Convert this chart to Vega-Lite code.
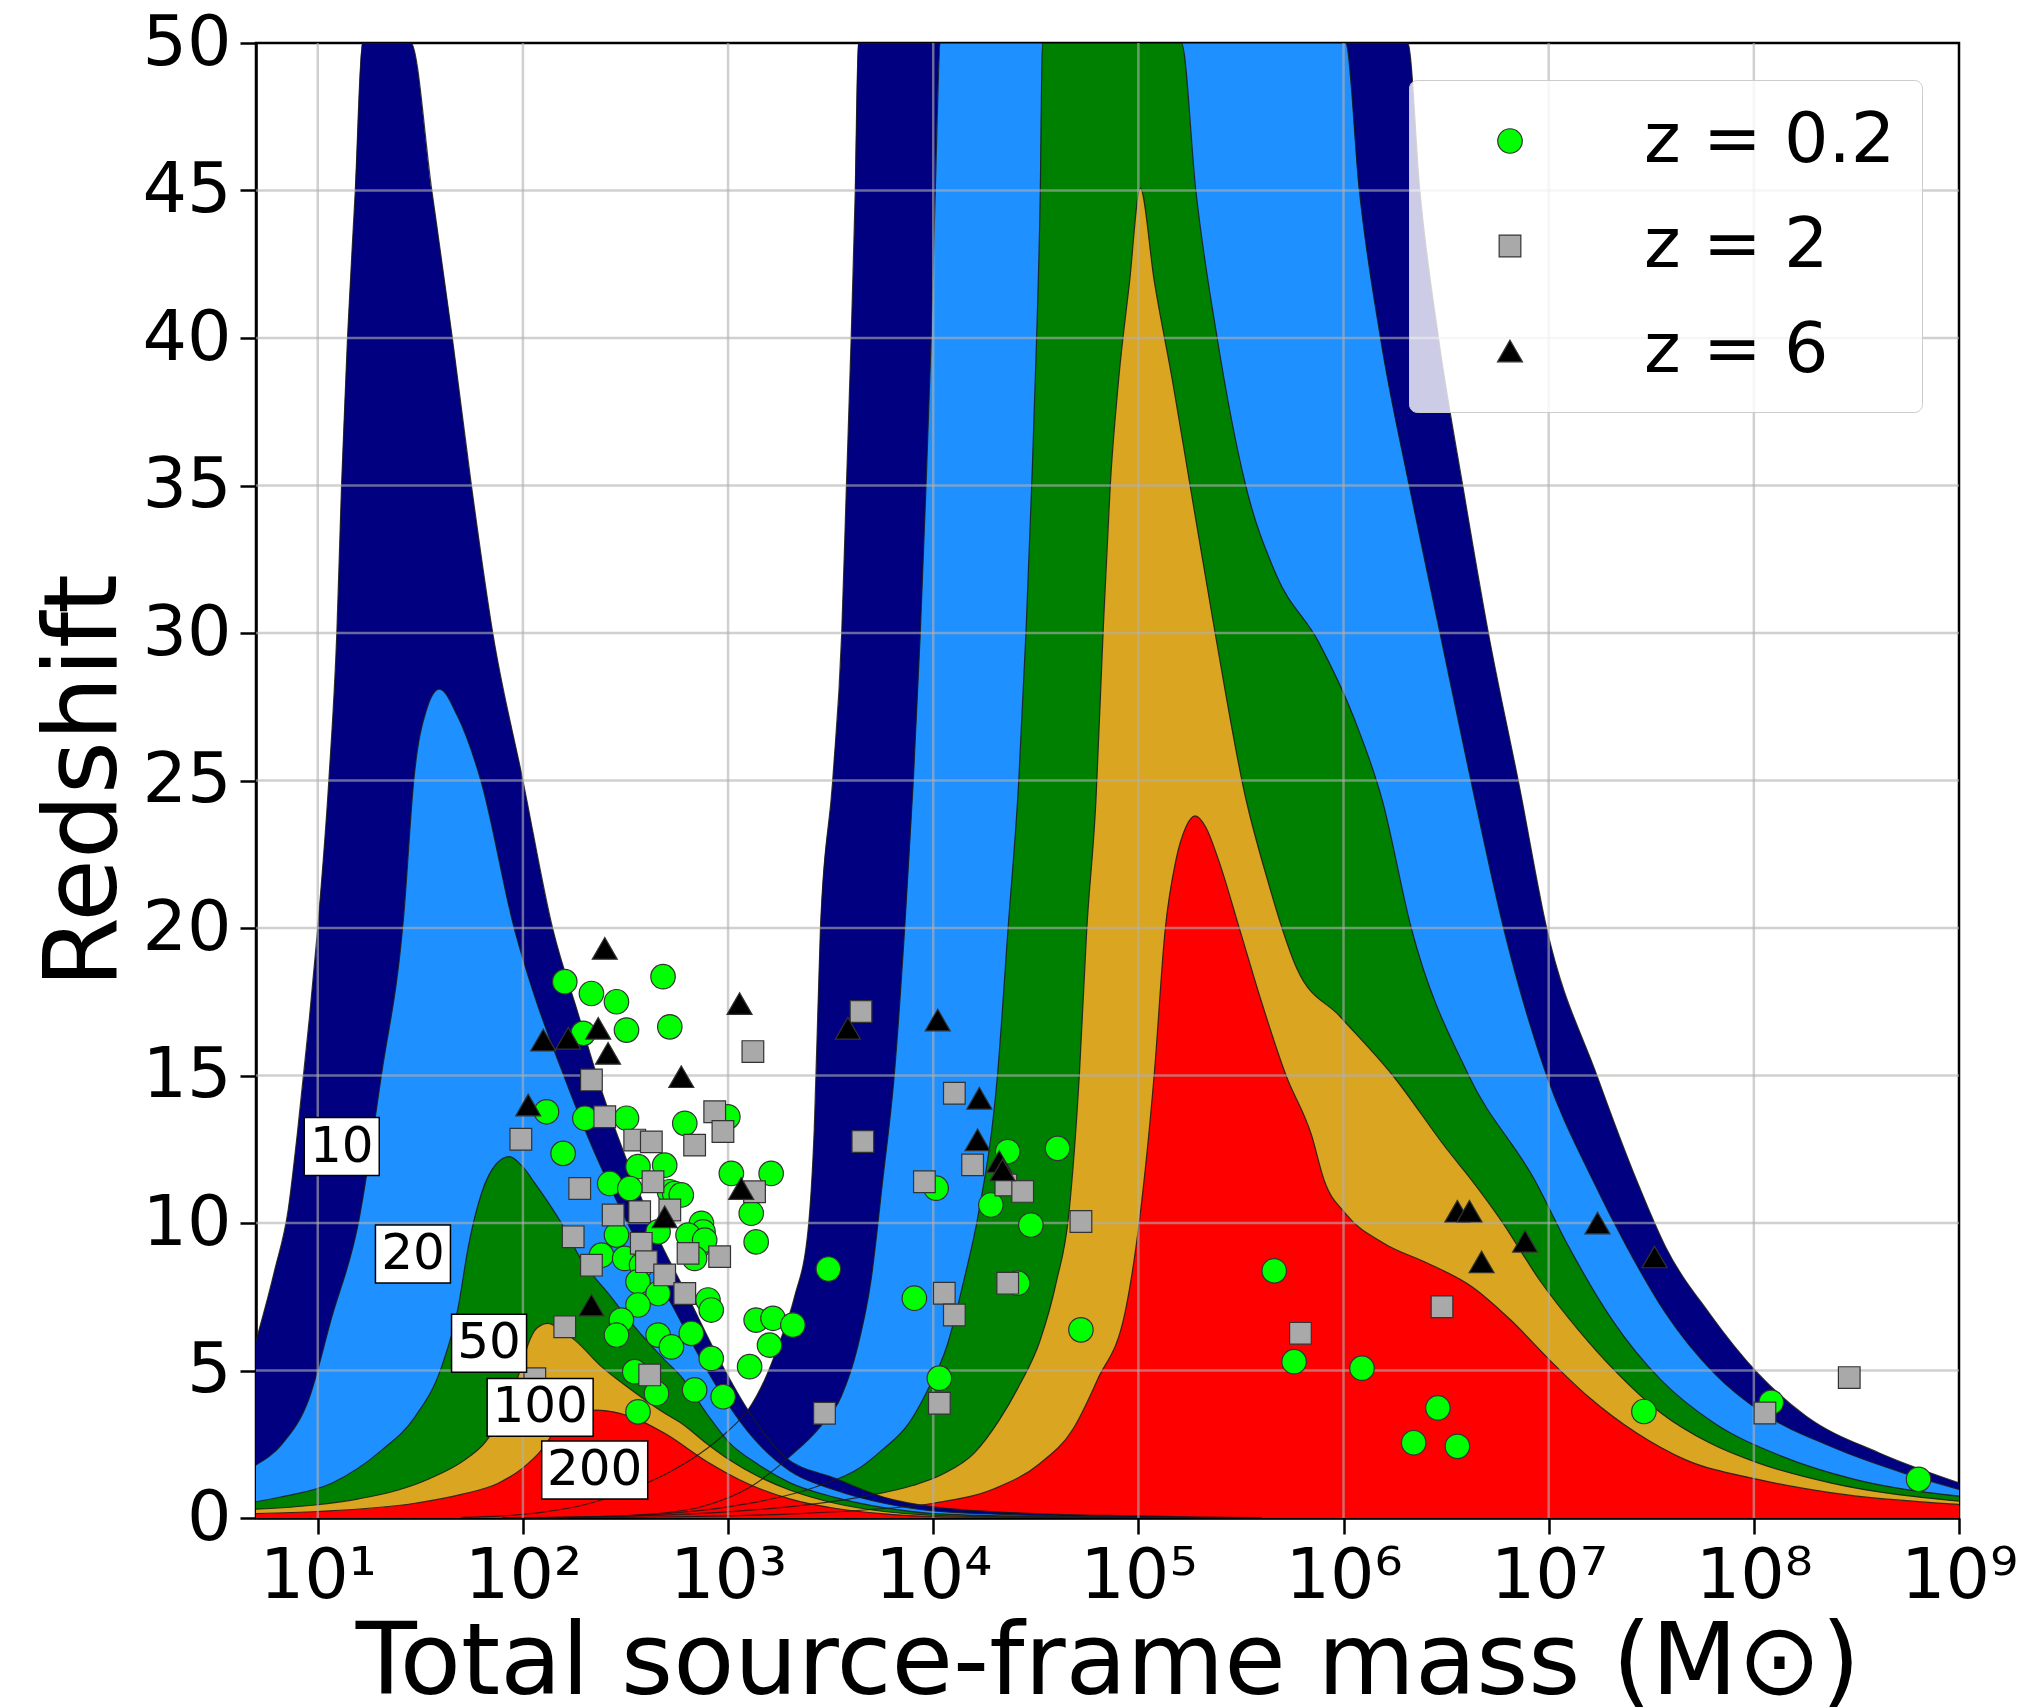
{
  "$schema": "https://vega.github.io/schema/vega-lite/v6.json",
  "width": 1703,
  "height": 1475,
  "autosize": {"type": "none"},
  "padding": {"left": 256, "top": 43, "right": 66, "bottom": 190},
  "background": "white",
  "config": {
    "font": "DejaVu Sans",
    "view": {"stroke": "black", "strokeWidth": 2.5},
    "axis": {"labelColor": "black", "titleColor": "black", "titleFontWeight": "normal", "domainColor": "black", "domainWidth": 2.5, "tickColor": "black", "tickWidth": 2.5, "tickSize": 16, "grid": false, "labelFont": "DejaVu Sans", "titleFont": "DejaVu Sans"},
    "legend": {"labelFont": "DejaVu Sans"}
  },
  "datasets": {
    "snr_curves": [
      {"curve":"LISA-10","log_mass":1.7,"z":0.02},{"curve":"LISA-10","log_mass":1.9,"z":0.07},{"curve":"LISA-10","log_mass":2.1,"z":0.2},{"curve":"LISA-10","log_mass":2.3,"z":0.45},{"curve":"LISA-10","log_mass":2.5,"z":0.9},{"curve":"LISA-10","log_mass":2.7,"z":1.5},{"curve":"LISA-10","log_mass":2.867,"z":2.2},{"curve":"LISA-10","log_mass":3.0,"z":2.95},{"curve":"LISA-10","log_mass":3.097,"z":3.66},{"curve":"LISA-10","log_mass":3.178,"z":4.68},{"curve":"LISA-10","log_mass":3.243,"z":5.81},{"curve":"LISA-10","log_mass":3.324,"z":7.5},{"curve":"LISA-10","log_mass":3.39,"z":9.76},{"curve":"LISA-10","log_mass":3.42,"z":13.15},{"curve":"LISA-10","log_mass":3.45,"z":19.93},{"curve":"LISA-10","log_mass":3.51,"z":25},{"curve":"LISA-10","log_mass":3.554,"z":30},{"curve":"LISA-10","log_mass":3.577,"z":35},{"curve":"LISA-10","log_mass":3.6,"z":40},{"curve":"LISA-10","log_mass":3.62,"z":45},{"curve":"LISA-10","log_mass":3.635,"z":50},{"curve":"LISA-10","log_mass":6.313,"z":50},{"curve":"LISA-10","log_mass":6.372,"z":45},{"curve":"LISA-10","log_mass":6.463,"z":40},{"curve":"LISA-10","log_mass":6.581,"z":35},{"curve":"LISA-10","log_mass":6.706,"z":30},{"curve":"LISA-10","log_mass":6.86,"z":24.7},{"curve":"LISA-10","log_mass":6.99,"z":20},{"curve":"LISA-10","log_mass":7.235,"z":15},{"curve":"LISA-10","log_mass":7.429,"z":11.44},{"curve":"LISA-10","log_mass":7.57,"z":9.19},{"curve":"LISA-10","log_mass":7.783,"z":6.94},{"curve":"LISA-10","log_mass":8.019,"z":4.91},{"curve":"LISA-10","log_mass":8.255,"z":3.45},{"curve":"LISA-10","log_mass":8.609,"z":2.21},{"curve":"LISA-10","log_mass":9.0,"z":1.19},

      {"curve":"LISA-20","log_mass":2.0,"z":0.01},{"curve":"LISA-20","log_mass":2.3,"z":0.04},{"curve":"LISA-20","log_mass":2.6,"z":0.12},{"curve":"LISA-20","log_mass":2.87,"z":0.38},{"curve":"LISA-20","log_mass":3.11,"z":1.06},{"curve":"LISA-20","log_mass":3.3,"z":2.08},{"curve":"LISA-20","log_mass":3.45,"z":3.1},{"curve":"LISA-20","log_mass":3.551,"z":4.11},{"curve":"LISA-20","log_mass":3.632,"z":5.81},{"curve":"LISA-20","log_mass":3.697,"z":8.07},{"curve":"LISA-20","log_mass":3.754,"z":11.46},{"curve":"LISA-20","log_mass":3.81,"z":15},{"curve":"LISA-20","log_mass":3.861,"z":20},{"curve":"LISA-20","log_mass":3.903,"z":25},{"curve":"LISA-20","log_mass":3.937,"z":30},{"curve":"LISA-20","log_mass":3.965,"z":35},{"curve":"LISA-20","log_mass":3.99,"z":40},{"curve":"LISA-20","log_mass":4.01,"z":45},{"curve":"LISA-20","log_mass":4.035,"z":50},{"curve":"LISA-20","log_mass":6.01,"z":50},{"curve":"LISA-20","log_mass":6.077,"z":45},{"curve":"LISA-20","log_mass":6.18,"z":40},{"curve":"LISA-20","log_mass":6.32,"z":35},{"curve":"LISA-20","log_mass":6.47,"z":30},{"curve":"LISA-20","log_mass":6.636,"z":24.5},{"curve":"LISA-20","log_mass":6.78,"z":20},{"curve":"LISA-20","log_mass":6.99,"z":15},{"curve":"LISA-20","log_mass":7.216,"z":11.44},{"curve":"LISA-20","log_mass":7.381,"z":9.19},{"curve":"LISA-20","log_mass":7.57,"z":6.94},{"curve":"LISA-20","log_mass":7.806,"z":4.91},{"curve":"LISA-20","log_mass":8.043,"z":3.56},{"curve":"LISA-20","log_mass":8.373,"z":2.43},{"curve":"LISA-20","log_mass":8.727,"z":1.53},{"curve":"LISA-20","log_mass":9.0,"z":0.97},

      {"curve":"LISA-50","log_mass":2.0,"z":0.012},{"curve":"LISA-50","log_mass":2.4,"z":0.05},{"curve":"LISA-50","log_mass":2.7,"z":0.15},{"curve":"LISA-50","log_mass":3.0,"z":0.38},{"curve":"LISA-50","log_mass":3.19,"z":0.61},{"curve":"LISA-50","log_mass":3.43,"z":1.06},{"curve":"LISA-50","log_mass":3.65,"z":1.74},{"curve":"LISA-50","log_mass":3.75,"z":2.3},{"curve":"LISA-50","log_mass":3.88,"z":3.2},{"curve":"LISA-50","log_mass":3.97,"z":4.3},{"curve":"LISA-50","log_mass":4.07,"z":5.9},{"curve":"LISA-50","log_mass":4.15,"z":8.07},{"curve":"LISA-50","log_mass":4.22,"z":10.3},{"curve":"LISA-50","log_mass":4.313,"z":15},{"curve":"LISA-50","log_mass":4.365,"z":20},{"curve":"LISA-50","log_mass":4.417,"z":25},{"curve":"LISA-50","log_mass":4.452,"z":30},{"curve":"LISA-50","log_mass":4.48,"z":35},{"curve":"LISA-50","log_mass":4.504,"z":40},{"curve":"LISA-50","log_mass":4.522,"z":45},{"curve":"LISA-50","log_mass":4.532,"z":50},{"curve":"LISA-50","log_mass":5.21,"z":50},{"curve":"LISA-50","log_mass":5.28,"z":45},{"curve":"LISA-50","log_mass":5.384,"z":40},{"curve":"LISA-50","log_mass":5.523,"z":35},{"curve":"LISA-50","log_mass":5.67,"z":32},{"curve":"LISA-50","log_mass":5.878,"z":29.7},{"curve":"LISA-50","log_mass":6.052,"z":27.1},{"curve":"LISA-50","log_mass":6.19,"z":24.3},{"curve":"LISA-50","log_mass":6.33,"z":20},{"curve":"LISA-50","log_mass":6.61,"z":15},{"curve":"LISA-50","log_mass":6.933,"z":11.44},{"curve":"LISA-50","log_mass":7.098,"z":9.19},{"curve":"LISA-50","log_mass":7.31,"z":6.71},{"curve":"LISA-50","log_mass":7.547,"z":4.68},{"curve":"LISA-50","log_mass":7.806,"z":3.22},{"curve":"LISA-50","log_mass":8.137,"z":2.09},{"curve":"LISA-50","log_mass":8.491,"z":1.31},{"curve":"LISA-50","log_mass":9.0,"z":0.74},

      {"curve":"LISA-100","log_mass":1.9,"z":0.01},{"curve":"LISA-100","log_mass":2.2,"z":0.025},{"curve":"LISA-100","log_mass":2.6,"z":0.08},{"curve":"LISA-100","log_mass":3.0,"z":0.21},{"curve":"LISA-100","log_mass":3.35,"z":0.42},{"curve":"LISA-100","log_mass":3.68,"z":0.75},{"curve":"LISA-100","log_mass":3.9,"z":1.1},{"curve":"LISA-100","log_mass":4.05,"z":1.5},{"curve":"LISA-100","log_mass":4.2,"z":2.2},{"curve":"LISA-100","log_mass":4.32,"z":3.3},{"curve":"LISA-100","log_mass":4.42,"z":4.5},{"curve":"LISA-100","log_mass":4.52,"z":6.0},{"curve":"LISA-100","log_mass":4.6,"z":8.0},{"curve":"LISA-100","log_mass":4.661,"z":10.3},{"curve":"LISA-100","log_mass":4.713,"z":15.1},{"curve":"LISA-100","log_mass":4.748,"z":19.9},{"curve":"LISA-100","log_mass":4.793,"z":24.3},{"curve":"LISA-100","log_mass":4.828,"z":30},{"curve":"LISA-100","log_mass":4.863,"z":35},{"curve":"LISA-100","log_mass":4.904,"z":38.6},{"curve":"LISA-100","log_mass":4.957,"z":41.9},{"curve":"LISA-100","log_mass":5.009,"z":45.08},{"curve":"LISA-100","log_mass":5.078,"z":41.9},{"curve":"LISA-100","log_mass":5.165,"z":38.6},{"curve":"LISA-100","log_mass":5.252,"z":35},{"curve":"LISA-100","log_mass":5.374,"z":30},{"curve":"LISA-100","log_mass":5.52,"z":24.5},{"curve":"LISA-100","log_mass":5.635,"z":21.5},{"curve":"LISA-100","log_mass":5.7,"z":20},{"curve":"LISA-100","log_mass":5.774,"z":18.6},{"curve":"LISA-100","log_mass":5.983,"z":17.0},{"curve":"LISA-100","log_mass":6.24,"z":15},{"curve":"LISA-100","log_mass":6.504,"z":12.5},{"curve":"LISA-100","log_mass":6.626,"z":11.44},{"curve":"LISA-100","log_mass":6.767,"z":10.1},{"curve":"LISA-100","log_mass":6.956,"z":8.06},{"curve":"LISA-100","log_mass":7.145,"z":6.37},{"curve":"LISA-100","log_mass":7.334,"z":4.91},{"curve":"LISA-100","log_mass":7.547,"z":3.56},{"curve":"LISA-100","log_mass":7.783,"z":2.55},{"curve":"LISA-100","log_mass":8.019,"z":1.87},{"curve":"LISA-100","log_mass":8.373,"z":1.19},{"curve":"LISA-100","log_mass":9.0,"z":0.57},

      {"curve":"LISA-200","log_mass":2.2,"z":0.008},{"curve":"LISA-200","log_mass":2.6,"z":0.025},{"curve":"LISA-200","log_mass":3.0,"z":0.07},{"curve":"LISA-200","log_mass":3.35,"z":0.15},{"curve":"LISA-200","log_mass":3.68,"z":0.28},{"curve":"LISA-200","log_mass":4.0,"z":0.5},{"curve":"LISA-200","log_mass":4.3,"z":1.0},{"curve":"LISA-200","log_mass":4.52,"z":1.85},{"curve":"LISA-200","log_mass":4.68,"z":3.0},{"curve":"LISA-200","log_mass":4.8,"z":4.68},{"curve":"LISA-200","log_mass":4.939,"z":7.1},{"curve":"LISA-200","log_mass":5.009,"z":10.3},{"curve":"LISA-200","log_mass":5.078,"z":15.1},{"curve":"LISA-200","log_mass":5.13,"z":19.9},{"curve":"LISA-200","log_mass":5.183,"z":22.3},{"curve":"LISA-200","log_mass":5.23,"z":23.4},{"curve":"LISA-200","log_mass":5.277,"z":23.8},{"curve":"LISA-200","log_mass":5.33,"z":23.4},{"curve":"LISA-200","log_mass":5.391,"z":22.3},{"curve":"LISA-200","log_mass":5.496,"z":19.9},{"curve":"LISA-200","log_mass":5.6,"z":17.5},{"curve":"LISA-200","log_mass":5.72,"z":15},{"curve":"LISA-200","log_mass":5.843,"z":13.0},{"curve":"LISA-200","log_mass":5.906,"z":11.44},{"curve":"LISA-200","log_mass":6.012,"z":10.3},{"curve":"LISA-200","log_mass":6.2,"z":9.3},{"curve":"LISA-200","log_mass":6.413,"z":8.63},{"curve":"LISA-200","log_mass":6.626,"z":7.84},{"curve":"LISA-200","log_mass":6.815,"z":6.71},{"curve":"LISA-200","log_mass":7.004,"z":5.36},{"curve":"LISA-200","log_mass":7.192,"z":4.12},{"curve":"LISA-200","log_mass":7.429,"z":2.88},{"curve":"LISA-200","log_mass":7.665,"z":1.98},{"curve":"LISA-200","log_mass":8.019,"z":1.31},{"curve":"LISA-200","log_mass":8.373,"z":0.86},{"curve":"LISA-200","log_mass":9.0,"z":0.46},

      {"curve":"LIGO-10","log_mass":0.699,"z":6.0},{"curve":"LIGO-10","log_mass":0.79,"z":8.4},{"curve":"LIGO-10","log_mass":0.857,"z":10.5},{"curve":"LIGO-10","log_mass":0.9,"z":13.0},{"curve":"LIGO-10","log_mass":0.96,"z":17.0},{"curve":"LIGO-10","log_mass":1.0,"z":20},{"curve":"LIGO-10","log_mass":1.054,"z":25},{"curve":"LIGO-10","log_mass":1.093,"z":30},{"curve":"LIGO-10","log_mass":1.116,"z":35},{"curve":"LIGO-10","log_mass":1.145,"z":40},{"curve":"LIGO-10","log_mass":1.183,"z":45},{"curve":"LIGO-10","log_mass":1.218,"z":50},{"curve":"LIGO-10","log_mass":1.454,"z":50},{"curve":"LIGO-10","log_mass":1.556,"z":45},{"curve":"LIGO-10","log_mass":1.656,"z":40},{"curve":"LIGO-10","log_mass":1.749,"z":35},{"curve":"LIGO-10","log_mass":1.853,"z":30},{"curve":"LIGO-10","log_mass":2.0,"z":25},{"curve":"LIGO-10","log_mass":2.147,"z":19.93},{"curve":"LIGO-10","log_mass":2.269,"z":17.1},{"curve":"LIGO-10","log_mass":2.383,"z":14.5},{"curve":"LIGO-10","log_mass":2.513,"z":12.0},{"curve":"LIGO-10","log_mass":2.642,"z":9.76},{"curve":"LIGO-10","log_mass":2.805,"z":7.5},{"curve":"LIGO-10","log_mass":2.967,"z":5.24},{"curve":"LIGO-10","log_mass":3.097,"z":3.66},{"curve":"LIGO-10","log_mass":3.275,"z":2.08},{"curve":"LIGO-10","log_mass":3.52,"z":1.35},{"curve":"LIGO-10","log_mass":3.76,"z":0.7},{"curve":"LIGO-10","log_mass":4.0,"z":0.38},{"curve":"LIGO-10","log_mass":4.5,"z":0.15},{"curve":"LIGO-10","log_mass":5.0,"z":0.07},{"curve":"LIGO-10","log_mass":5.3,"z":0.03},{"curve":"LIGO-10","log_mass":5.6,"z":0.01},

      {"curve":"LIGO-20","log_mass":0.699,"z":1.8},{"curve":"LIGO-20","log_mass":0.825,"z":2.5},{"curve":"LIGO-20","log_mass":0.955,"z":4.0},{"curve":"LIGO-20","log_mass":1.068,"z":6.8},{"curve":"LIGO-20","log_mass":1.198,"z":10},{"curve":"LIGO-20","log_mass":1.31,"z":15},{"curve":"LIGO-20","log_mass":1.42,"z":20.5},{"curve":"LIGO-20","log_mass":1.468,"z":25},{"curve":"LIGO-20","log_mass":1.53,"z":27.4},{"curve":"LIGO-20","log_mass":1.593,"z":28.1},{"curve":"LIGO-20","log_mass":1.68,"z":27.2},{"curve":"LIGO-20","log_mass":1.795,"z":25},{"curve":"LIGO-20","log_mass":1.96,"z":19.93},{"curve":"LIGO-20","log_mass":2.058,"z":17.67},{"curve":"LIGO-20","log_mass":2.188,"z":15.2},{"curve":"LIGO-20","log_mass":2.318,"z":12.9},{"curve":"LIGO-20","log_mass":2.447,"z":10.9},{"curve":"LIGO-20","log_mass":2.577,"z":9.08},{"curve":"LIGO-20","log_mass":2.74,"z":7.05},{"curve":"LIGO-20","log_mass":2.85,"z":5.6},{"curve":"LIGO-20","log_mass":2.95,"z":4.4},{"curve":"LIGO-20","log_mass":3.1,"z":2.9},{"curve":"LIGO-20","log_mass":3.3,"z":1.6},{"curve":"LIGO-20","log_mass":3.52,"z":0.95},{"curve":"LIGO-20","log_mass":3.76,"z":0.5},{"curve":"LIGO-20","log_mass":4.0,"z":0.24},{"curve":"LIGO-20","log_mass":4.5,"z":0.09},{"curve":"LIGO-20","log_mass":5.0,"z":0.03},{"curve":"LIGO-20","log_mass":5.4,"z":0.01},

      {"curve":"LIGO-50","log_mass":0.699,"z":0.55},{"curve":"LIGO-50","log_mass":0.825,"z":0.72},{"curve":"LIGO-50","log_mass":1.068,"z":1.18},{"curve":"LIGO-50","log_mass":1.312,"z":2.3},{"curve":"LIGO-50","log_mass":1.474,"z":3.43},{"curve":"LIGO-50","log_mass":1.604,"z":5.13},{"curve":"LIGO-50","log_mass":1.685,"z":7.16},{"curve":"LIGO-50","log_mass":1.734,"z":9.2},{"curve":"LIGO-50","log_mass":1.798,"z":11.0},{"curve":"LIGO-50","log_mass":1.87,"z":12.0},{"curve":"LIGO-50","log_mass":1.933,"z":12.25},{"curve":"LIGO-50","log_mass":2.0,"z":11.9},{"curve":"LIGO-50","log_mass":2.058,"z":11.35},{"curve":"LIGO-50","log_mass":2.188,"z":9.99},{"curve":"LIGO-50","log_mass":2.285,"z":8.75},{"curve":"LIGO-50","log_mass":2.415,"z":7.62},{"curve":"LIGO-50","log_mass":2.545,"z":6.48},{"curve":"LIGO-50","log_mass":2.691,"z":5.36},{"curve":"LIGO-50","log_mass":2.772,"z":4.79},{"curve":"LIGO-50","log_mass":2.9,"z":3.5},{"curve":"LIGO-50","log_mass":3.0,"z":2.6},{"curve":"LIGO-50","log_mass":3.15,"z":1.8},{"curve":"LIGO-50","log_mass":3.3,"z":1.2},{"curve":"LIGO-50","log_mass":3.52,"z":0.7},{"curve":"LIGO-50","log_mass":3.76,"z":0.35},{"curve":"LIGO-50","log_mass":4.0,"z":0.15},{"curve":"LIGO-50","log_mass":4.5,"z":0.055},{"curve":"LIGO-50","log_mass":5.0,"z":0.018},{"curve":"LIGO-50","log_mass":5.3,"z":0.006},

      {"curve":"LIGO-100","log_mass":0.699,"z":0.3},{"curve":"LIGO-100","log_mass":0.987,"z":0.44},{"curve":"LIGO-100","log_mass":1.2,"z":0.65},{"curve":"LIGO-100","log_mass":1.393,"z":0.95},{"curve":"LIGO-100","log_mass":1.55,"z":1.35},{"curve":"LIGO-100","log_mass":1.717,"z":1.97},{"curve":"LIGO-100","log_mass":1.82,"z":2.6},{"curve":"LIGO-100","log_mass":1.896,"z":3.43},{"curve":"LIGO-100","log_mass":1.95,"z":4.3},{"curve":"LIGO-100","log_mass":1.993,"z":5.13},{"curve":"LIGO-100","log_mass":2.026,"z":5.9},{"curve":"LIGO-100","log_mass":2.07,"z":6.45},{"curve":"LIGO-100","log_mass":2.123,"z":6.6},{"curve":"LIGO-100","log_mass":2.18,"z":6.4},{"curve":"LIGO-100","log_mass":2.253,"z":6.03},{"curve":"LIGO-100","log_mass":2.383,"z":5.13},{"curve":"LIGO-100","log_mass":2.529,"z":4.34},{"curve":"LIGO-100","log_mass":2.691,"z":3.55},{"curve":"LIGO-100","log_mass":2.772,"z":3.21},{"curve":"LIGO-100","log_mass":2.9,"z":2.5},{"curve":"LIGO-100","log_mass":3.0,"z":2.0},{"curve":"LIGO-100","log_mass":3.15,"z":1.4},{"curve":"LIGO-100","log_mass":3.3,"z":0.95},{"curve":"LIGO-100","log_mass":3.52,"z":0.5},{"curve":"LIGO-100","log_mass":3.76,"z":0.22},{"curve":"LIGO-100","log_mass":4.0,"z":0.09},{"curve":"LIGO-100","log_mass":4.5,"z":0.03},{"curve":"LIGO-100","log_mass":5.0,"z":0.01},

      {"curve":"LIGO-200","log_mass":0.699,"z":0.15},{"curve":"LIGO-200","log_mass":1.0,"z":0.22},{"curve":"LIGO-200","log_mass":1.474,"z":0.5},{"curve":"LIGO-200","log_mass":1.7,"z":0.8},{"curve":"LIGO-200","log_mass":1.88,"z":1.18},{"curve":"LIGO-200","log_mass":2.0,"z":1.7},{"curve":"LIGO-200","log_mass":2.09,"z":2.3},{"curve":"LIGO-200","log_mass":2.15,"z":2.9},{"curve":"LIGO-200","log_mass":2.204,"z":3.4},{"curve":"LIGO-200","log_mass":2.28,"z":3.6},{"curve":"LIGO-200","log_mass":2.36,"z":3.66},{"curve":"LIGO-200","log_mass":2.44,"z":3.6},{"curve":"LIGO-200","log_mass":2.529,"z":3.43},{"curve":"LIGO-200","log_mass":2.691,"z":2.87},{"curve":"LIGO-200","log_mass":2.9,"z":1.9},{"curve":"LIGO-200","log_mass":3.1,"z":1.15},{"curve":"LIGO-200","log_mass":3.3,"z":0.65},{"curve":"LIGO-200","log_mass":3.52,"z":0.33},{"curve":"LIGO-200","log_mass":3.76,"z":0.14},{"curve":"LIGO-200","log_mass":4.0,"z":0.05},{"curve":"LIGO-200","log_mass":4.5,"z":0.015},{"curve":"LIGO-200","log_mass":5.0,"z":0.005}
    ],
    "sources": [
      {"population":"z = 0.2","log_mass":2.204,"z":18.18},{"population":"z = 0.2","log_mass":2.683,"z":18.35},{"population":"z = 0.2","log_mass":2.334,"z":17.78},{"population":"z = 0.2","log_mass":2.456,"z":17.5},{"population":"z = 0.2","log_mass":2.716,"z":16.65},{"population":"z = 0.2","log_mass":2.505,"z":16.54},{"population":"z = 0.2","log_mass":2.294,"z":16.43},{"population":"z = 0.2","log_mass":2.115,"z":13.77},{"population":"z = 0.2","log_mass":2.302,"z":13.55},{"population":"z = 0.2","log_mass":2.505,"z":13.55},{"population":"z = 0.2","log_mass":2.789,"z":13.38},{"population":"z = 0.2","log_mass":2.999,"z":13.6},{"population":"z = 0.2","log_mass":2.196,"z":12.36},{"population":"z = 0.2","log_mass":2.561,"z":11.91},{"population":"z = 0.2","log_mass":2.691,"z":11.96},{"population":"z = 0.2","log_mass":3.016,"z":11.68},{"population":"z = 0.2","log_mass":3.21,"z":11.68},{"population":"z = 0.2","log_mass":2.423,"z":11.34},{"population":"z = 0.2","log_mass":2.521,"z":11.17},{"population":"z = 0.2","log_mass":2.715,"z":11.06},{"population":"z = 0.2","log_mass":2.74,"z":11.0},{"population":"z = 0.2","log_mass":2.772,"z":10.95},{"population":"z = 0.2","log_mass":3.113,"z":10.33},{"population":"z = 0.2","log_mass":2.87,"z":9.99},{"population":"z = 0.2","log_mass":2.878,"z":9.7},{"population":"z = 0.2","log_mass":2.853,"z":9.2},{"population":"z = 0.2","log_mass":2.456,"z":9.59},{"population":"z = 0.2","log_mass":2.659,"z":9.7},{"population":"z = 0.2","log_mass":2.805,"z":9.59},{"population":"z = 0.2","log_mass":2.886,"z":9.42},{"population":"z = 0.2","log_mass":3.137,"z":9.36},{"population":"z = 0.2","log_mass":2.383,"z":8.91},{"population":"z = 0.2","log_mass":2.496,"z":8.8},{"population":"z = 0.2","log_mass":2.578,"z":8.57},{"population":"z = 0.2","log_mass":2.561,"z":8.01},{"population":"z = 0.2","log_mass":2.659,"z":7.61},{"population":"z = 0.2","log_mass":2.837,"z":8.8},{"population":"z = 0.2","log_mass":2.561,"z":7.22},{"population":"z = 0.2","log_mass":2.902,"z":7.39},{"population":"z = 0.2","log_mass":2.918,"z":7.05},{"population":"z = 0.2","log_mass":2.48,"z":6.71},{"population":"z = 0.2","log_mass":2.456,"z":6.2},{"population":"z = 0.2","log_mass":2.659,"z":6.2},{"population":"z = 0.2","log_mass":2.724,"z":5.8},{"population":"z = 0.2","log_mass":2.821,"z":6.26},{"population":"z = 0.2","log_mass":3.137,"z":6.71},{"population":"z = 0.2","log_mass":3.219,"z":6.77},{"population":"z = 0.2","log_mass":3.316,"z":6.54},{"population":"z = 0.2","log_mass":3.202,"z":5.86},{"population":"z = 0.2","log_mass":2.918,"z":5.41},{"population":"z = 0.2","log_mass":3.105,"z":5.13},{"population":"z = 0.2","log_mass":2.545,"z":4.96},{"population":"z = 0.2","log_mass":2.651,"z":4.22},{"population":"z = 0.2","log_mass":2.837,"z":4.34},{"population":"z = 0.2","log_mass":2.976,"z":4.11},{"population":"z = 0.2","log_mass":2.561,"z":3.6},{"population":"z = 0.2","log_mass":3.489,"z":8.44},
      {"population":"z = 0.2","log_mass":4.363,"z":12.42},{"population":"z = 0.2","log_mass":4.606,"z":12.53},{"population":"z = 0.2","log_mass":4.014,"z":11.18},{"population":"z = 0.2","log_mass":4.281,"z":10.61},{"population":"z = 0.2","log_mass":4.476,"z":9.93},{"population":"z = 0.2","log_mass":3.908,"z":7.45},{"population":"z = 0.2","log_mass":4.411,"z":7.96},{"population":"z = 0.2","log_mass":4.72,"z":6.38},{"population":"z = 0.2","log_mass":4.03,"z":4.74},
      {"population":"z = 0.2","log_mass":5.662,"z":8.38},{"population":"z = 0.2","log_mass":5.759,"z":5.3},{"population":"z = 0.2","log_mass":6.09,"z":5.08},{"population":"z = 0.2","log_mass":6.46,"z":3.73},{"population":"z = 0.2","log_mass":6.342,"z":2.55},{"population":"z = 0.2","log_mass":6.555,"z":2.43},{"population":"z = 0.2","log_mass":7.464,"z":3.61},{"population":"z = 0.2","log_mass":8.085,"z":3.92},{"population":"z = 0.2","log_mass":8.803,"z":1.31},

      {"population":"z = 2","log_mass":2.334,"z":14.85},{"population":"z = 2","log_mass":3.121,"z":15.81},{"population":"z = 2","log_mass":2.399,"z":13.6},{"population":"z = 2","log_mass":2.935,"z":13.77},{"population":"z = 2","log_mass":1.99,"z":12.84},{"population":"z = 2","log_mass":2.545,"z":12.81},{"population":"z = 2","log_mass":2.626,"z":12.75},{"population":"z = 2","log_mass":2.837,"z":12.64},{"population":"z = 2","log_mass":2.975,"z":13.1},{"population":"z = 2","log_mass":2.277,"z":11.17},{"population":"z = 2","log_mass":2.634,"z":11.4},{"population":"z = 2","log_mass":2.44,"z":10.27},{"population":"z = 2","log_mass":2.569,"z":10.38},{"population":"z = 2","log_mass":2.716,"z":10.44},{"population":"z = 2","log_mass":3.129,"z":11.06},{"population":"z = 2","log_mass":2.245,"z":9.53},{"population":"z = 2","log_mass":2.577,"z":9.31},{"population":"z = 2","log_mass":2.805,"z":8.97},{"population":"z = 2","log_mass":2.959,"z":8.86},{"population":"z = 2","log_mass":2.334,"z":8.57},{"population":"z = 2","log_mass":2.602,"z":8.69},{"population":"z = 2","log_mass":2.691,"z":8.24},{"population":"z = 2","log_mass":2.789,"z":7.61},{"population":"z = 2","log_mass":2.204,"z":6.48},{"population":"z = 2","log_mass":2.618,"z":4.85},{"population":"z = 2","log_mass":2.058,"z":4.72},
      {"population":"z = 2","log_mass":3.648,"z":17.17},{"population":"z = 2","log_mass":4.103,"z":14.4},{"population":"z = 2","log_mass":3.657,"z":12.76},{"population":"z = 2","log_mass":4.192,"z":11.97},{"population":"z = 2","log_mass":3.957,"z":11.4},{"population":"z = 2","log_mass":4.354,"z":11.29},{"population":"z = 2","log_mass":4.436,"z":11.07},{"population":"z = 2","log_mass":4.72,"z":10.05},{"population":"z = 2","log_mass":4.363,"z":7.96},{"population":"z = 2","log_mass":4.054,"z":7.62},{"population":"z = 2","log_mass":4.103,"z":6.88},{"population":"z = 2","log_mass":4.03,"z":3.89},{"population":"z = 2","log_mass":3.47,"z":3.55},
      {"population":"z = 2","log_mass":5.79,"z":6.26},{"population":"z = 2","log_mass":6.48,"z":7.16},{"population":"z = 2","log_mass":8.054,"z":3.56},{"population":"z = 2","log_mass":8.465,"z":4.76},

      {"population":"z = 6","log_mass":2.399,"z":19.31},{"population":"z = 6","log_mass":3.056,"z":17.44},{"population":"z = 6","log_mass":2.099,"z":16.2},{"population":"z = 6","log_mass":2.221,"z":16.26},{"population":"z = 6","log_mass":2.367,"z":16.6},{"population":"z = 6","log_mass":2.415,"z":15.75},{"population":"z = 6","log_mass":2.772,"z":14.96},{"population":"z = 6","log_mass":2.026,"z":14.0},{"population":"z = 6","log_mass":3.064,"z":11.17},{"population":"z = 6","log_mass":2.691,"z":10.21},{"population":"z = 6","log_mass":2.334,"z":7.22},
      {"population":"z = 6","log_mass":3.584,"z":16.6},{"population":"z = 6","log_mass":4.022,"z":16.88},{"population":"z = 6","log_mass":4.225,"z":14.23},{"population":"z = 6","log_mass":4.216,"z":12.82},{"population":"z = 6","log_mass":4.322,"z":12.08},{"population":"z = 6","log_mass":4.338,"z":11.8},
      {"population":"z = 6","log_mass":6.555,"z":10.4},{"population":"z = 6","log_mass":6.614,"z":10.4},{"population":"z = 6","log_mass":6.673,"z":8.68},{"population":"z = 6","log_mass":6.885,"z":9.38},{"population":"z = 6","log_mass":7.238,"z":10.0},{"population":"z = 6","log_mass":7.516,"z":8.85}
    ],
    "snr_labels": [
      {"label":"10","log_mass":1.117,"z":12.59},
      {"label":"20","log_mass":1.464,"z":8.95},
      {"label":"50","log_mass":1.835,"z":5.92},
      {"label":"100","log_mass":2.084,"z":3.75},
      {"label":"200","log_mass":2.35,"z":1.63}
    ]
  },
  "layer": [
    {
      "data": {"name": "snr_curves"},
      "transform": [{"filter": "datum.curve == 'LISA-10'"}],
      "mark": {"type": "area", "color": "#000080", "interpolate": "monotone", "clip": true},
      "encoding": {
        "x": {"field": "log_mass", "type": "quantitative", "scale": {"domain": [0.699, 9], "nice": false, "zero": false},
          "axis": {"title": "Total source-frame mass (M⊙)", "values": [1,2,3,4,5,6,7,8,9], "labelExpr": "'10' + ['⁰','¹','²','³','⁴','⁵','⁶','⁷','⁸','⁹'][datum.value]", "labelFontSize": 70, "titleFontSize": 100, "labelPadding": 8, "titlePadding": 3, "labelFlush": false, "labelOverlap": false}},
        "y": {"field": "z", "type": "quantitative", "scale": {"domain": [0, 50], "nice": false},
          "axis": {"title": "Redshift", "values": [0,5,10,15,20,25,30,35,40,45,50], "labelFontSize": 70, "titleFontSize": 102, "labelPadding": 9, "titlePadding": 5, "labelFlush": false, "labelOverlap": false}}
      }
    },
    {"data": {"name": "snr_curves"}, "transform": [{"filter": "datum.curve == 'LISA-20'"}], "mark": {"type": "area", "color": "#1e90ff", "interpolate": "monotone", "clip": true},
      "encoding": {"x": {"field": "log_mass", "type": "quantitative", "scale": {"domain": [0.699, 9], "nice": false, "zero": false}}, "y": {"field": "z", "type": "quantitative", "scale": {"domain": [0, 50], "nice": false}}}},
    {"data": {"name": "snr_curves"}, "transform": [{"filter": "datum.curve == 'LISA-50'"}], "mark": {"type": "area", "color": "#008000", "interpolate": "monotone", "clip": true},
      "encoding": {"x": {"field": "log_mass", "type": "quantitative", "scale": {"domain": [0.699, 9], "nice": false, "zero": false}}, "y": {"field": "z", "type": "quantitative", "scale": {"domain": [0, 50], "nice": false}}}},
    {"data": {"name": "snr_curves"}, "transform": [{"filter": "datum.curve == 'LISA-100'"}], "mark": {"type": "area", "color": "#daa520", "interpolate": "monotone", "clip": true},
      "encoding": {"x": {"field": "log_mass", "type": "quantitative", "scale": {"domain": [0.699, 9], "nice": false, "zero": false}}, "y": {"field": "z", "type": "quantitative", "scale": {"domain": [0, 50], "nice": false}}}},
    {"data": {"name": "snr_curves"}, "transform": [{"filter": "datum.curve == 'LISA-200'"}], "mark": {"type": "area", "color": "#ff0000", "interpolate": "monotone", "clip": true},
      "encoding": {"x": {"field": "log_mass", "type": "quantitative", "scale": {"domain": [0.699, 9], "nice": false, "zero": false}}, "y": {"field": "z", "type": "quantitative", "scale": {"domain": [0, 50], "nice": false}}}},
    {"data": {"name": "snr_curves"}, "transform": [{"filter": "datum.curve == 'LIGO-10'"}], "mark": {"type": "area", "color": "#000080", "interpolate": "monotone", "clip": true},
      "encoding": {"x": {"field": "log_mass", "type": "quantitative", "scale": {"domain": [0.699, 9], "nice": false, "zero": false}}, "y": {"field": "z", "type": "quantitative", "scale": {"domain": [0, 50], "nice": false}}}},
    {"data": {"name": "snr_curves"}, "transform": [{"filter": "datum.curve == 'LIGO-20'"}], "mark": {"type": "area", "color": "#1e90ff", "interpolate": "monotone", "clip": true},
      "encoding": {"x": {"field": "log_mass", "type": "quantitative", "scale": {"domain": [0.699, 9], "nice": false, "zero": false}}, "y": {"field": "z", "type": "quantitative", "scale": {"domain": [0, 50], "nice": false}}}},
    {"data": {"name": "snr_curves"}, "transform": [{"filter": "datum.curve == 'LIGO-50'"}], "mark": {"type": "area", "color": "#008000", "interpolate": "monotone", "clip": true},
      "encoding": {"x": {"field": "log_mass", "type": "quantitative", "scale": {"domain": [0.699, 9], "nice": false, "zero": false}}, "y": {"field": "z", "type": "quantitative", "scale": {"domain": [0, 50], "nice": false}}}},
    {"data": {"name": "snr_curves"}, "transform": [{"filter": "datum.curve == 'LIGO-100'"}], "mark": {"type": "area", "color": "#daa520", "interpolate": "monotone", "clip": true},
      "encoding": {"x": {"field": "log_mass", "type": "quantitative", "scale": {"domain": [0.699, 9], "nice": false, "zero": false}}, "y": {"field": "z", "type": "quantitative", "scale": {"domain": [0, 50], "nice": false}}}},
    {"data": {"name": "snr_curves"}, "transform": [{"filter": "datum.curve == 'LIGO-200'"}], "mark": {"type": "area", "color": "#ff0000", "interpolate": "monotone", "clip": true},
      "encoding": {"x": {"field": "log_mass", "type": "quantitative", "scale": {"domain": [0.699, 9], "nice": false, "zero": false}}, "y": {"field": "z", "type": "quantitative", "scale": {"domain": [0, 50], "nice": false}}}},
    {"data": {"name": "snr_curves"}, "mark": {"type": "line", "color": "#1a1a1a", "strokeWidth": 1.2, "opacity": 0.85, "interpolate": "monotone", "clip": true},
      "encoding": {"x": {"field": "log_mass", "type": "quantitative", "scale": {"domain": [0.699, 9], "nice": false, "zero": false}}, "y": {"field": "z", "type": "quantitative", "scale": {"domain": [0, 50], "nice": false}}, "detail": {"field": "curve", "type": "nominal"}}},
    {"data": {"values": [{"log_mass": 1},{"log_mass": 2},{"log_mass": 3},{"log_mass": 4},{"log_mass": 5},{"log_mass": 6},{"log_mass": 7},{"log_mass": 8}]},
      "mark": {"type": "rule", "color": "#b0b0b0", "strokeWidth": 2.5, "opacity": 0.6},
      "encoding": {"x": {"field": "log_mass", "type": "quantitative", "scale": {"domain": [0.699, 9], "nice": false, "zero": false}}}},
    {"data": {"values": [{"z": 5},{"z": 10},{"z": 15},{"z": 20},{"z": 25},{"z": 30},{"z": 35},{"z": 40},{"z": 45}]},
      "mark": {"type": "rule", "color": "#b0b0b0", "strokeWidth": 2.5, "opacity": 0.6},
      "encoding": {"y": {"field": "z", "type": "quantitative", "scale": {"domain": [0, 50], "nice": false}}}},
    {"data": {"name": "sources"},
      "mark": {"type": "point", "filled": true, "opacity": 1, "stroke": "#333333", "strokeWidth": 1.2, "clip": true},
      "encoding": {
        "x": {"field": "log_mass", "type": "quantitative", "scale": {"domain": [0.699, 9], "nice": false, "zero": false}},
        "y": {"field": "z", "type": "quantitative", "scale": {"domain": [0, 50], "nice": false}},
        "shape": {"field": "population", "type": "nominal", "scale": {"domain": ["z = 0.2", "z = 2", "z = 6"], "range": ["circle", "square", "triangle-up"]},
          "legend": {"title": null, "orient": "top-right", "offset": 37, "labelFontSize": 70, "labelColor": "black", "labelLimit": 500, "symbolSize": 560, "symbolStrokeColor": "#333333", "symbolStrokeWidth": 1.2, "padding": 26, "fillColor": "rgba(255,255,255,0.8)", "strokeColor": "#cccccc", "cornerRadius": 8, "rowPadding": 35, "labelOffset": 99, "symbolOffset": 40}},
        "color": {"field": "population", "type": "nominal", "scale": {"domain": ["z = 0.2", "z = 2", "z = 6"], "range": ["#00ff00", "#a9a9a9", "#000000"]},
          "legend": {"title": null, "orient": "top-right", "offset": 37, "labelFontSize": 70, "labelColor": "black", "labelLimit": 500, "symbolSize": 560, "symbolStrokeColor": "#333333", "symbolStrokeWidth": 1.2, "padding": 26, "fillColor": "rgba(255,255,255,0.8)", "strokeColor": "#cccccc", "cornerRadius": 8, "rowPadding": 35, "labelOffset": 99, "symbolOffset": 40}},
        "size": {"field": "population", "type": "ordinal", "scale": {"type": "ordinal", "domain": ["z = 0.2", "z = 2", "z = 6"], "range": [600, 470, 625]}, "legend": null}
      }},
    {"data": {"name": "snr_labels"}, "transform": [{"filter": "length(datum.label) == 2"}],
      "mark": {"type": "point", "shape": "M-1,-0.773L1,-0.773L1,0.773L-1,0.773Z", "size": 5625, "filled": true, "fill": "white", "stroke": "black", "strokeWidth": 1.5, "opacity": 1},
      "encoding": {"x": {"field": "log_mass", "type": "quantitative", "scale": {"domain": [0.699, 9], "nice": false, "zero": false}}, "y": {"field": "z", "type": "quantitative", "scale": {"domain": [0, 50], "nice": false}}}},
    {"data": {"name": "snr_labels"}, "transform": [{"filter": "length(datum.label) == 3"}],
      "mark": {"type": "point", "shape": "M-1,-0.547L1,-0.547L1,0.547L-1,0.547Z", "size": 11236, "filled": true, "fill": "white", "stroke": "black", "strokeWidth": 1.5, "opacity": 1},
      "encoding": {"x": {"field": "log_mass", "type": "quantitative", "scale": {"domain": [0.699, 9], "nice": false, "zero": false}}, "y": {"field": "z", "type": "quantitative", "scale": {"domain": [0, 50], "nice": false}}}},
    {"data": {"name": "snr_labels"},
      "mark": {"type": "text", "fontSize": 50, "color": "black", "align": "center", "baseline": "middle", "font": "DejaVu Sans"},
      "encoding": {"x": {"field": "log_mass", "type": "quantitative", "scale": {"domain": [0.699, 9], "nice": false, "zero": false}}, "y": {"field": "z", "type": "quantitative", "scale": {"domain": [0, 50], "nice": false}}, "text": {"field": "label", "type": "nominal"}}}
  ]
}
